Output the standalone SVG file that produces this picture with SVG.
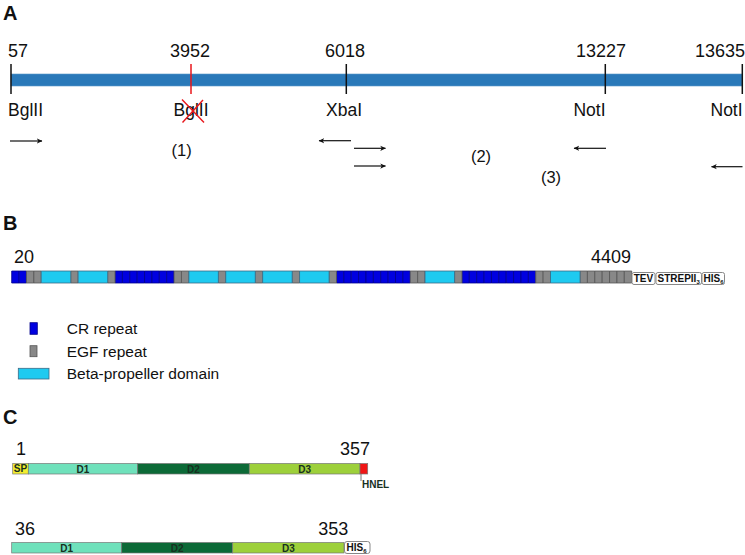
<svg xmlns="http://www.w3.org/2000/svg" width="745" height="555" viewBox="0 0 745 555">
<defs>
<style>
text{font-family:"Liberation Sans",Arial,sans-serif;fill:#111}
.lbl{font-size:20px;font-weight:bold}
.num{font-size:18px}
.site{font-size:17.5px}
.frag{font-size:16.5px}
.leg{font-size:15.5px}
.tick{stroke:#111;stroke-width:1.5}
.arr{stroke:#111;stroke-width:1.2;fill:none;marker-end:url(#ah)}
.cr{fill:#0000e0;stroke:#00008a;stroke-width:0.8}
.egf{fill:#888;stroke:#555;stroke-width:0.8}
.bp{fill:#1ecaf0;stroke:#3b6a86;stroke-width:0.8}
.tag{fill:#fff;stroke:#888;stroke-width:1}
.tagt{font-size:10px;font-weight:bold;fill:#111}
.dom{stroke:#777;stroke-width:0.7}
.domt{font-size:10px;font-weight:bold;fill:#17301f}
</style>
<marker id="ah" viewBox="0 0 8 8" refX="7" refY="4" markerWidth="6" markerHeight="6" markerUnits="userSpaceOnUse" orient="auto">
<path d="M0,0.5 L7.5,4 L0,7.5 L2,4 Z" fill="#111"/>
</marker>
</defs>
<rect width="745" height="555" fill="#fff"/>

<g id="panelA">
<text class="lbl" x="3" y="20">A</text>
<rect x="11" y="74" width="731" height="12" fill="#2a79b9" stroke="#5a97c8" stroke-width="0.6"/>
<line class="tick" x1="11" y1="64" x2="11" y2="94"/>
<line x1="191" y1="64" x2="191" y2="94" stroke="#e8161b" stroke-width="1.5"/>
<line class="tick" x1="346.3" y1="64" x2="346.3" y2="94"/>
<line class="tick" x1="605.3" y1="64" x2="605.3" y2="94"/>
<line class="tick" x1="742.3" y1="64" x2="742.3" y2="94"/>
<text class="num" x="8" y="57">57</text>
<text class="num" x="190" y="57" text-anchor="middle">3952</text>
<text class="num" x="345" y="57" text-anchor="middle">6018</text>
<text class="num" x="601" y="57" text-anchor="middle">13227</text>
<text class="num" x="745" y="57" text-anchor="end">13635</text>
<text class="site" x="8" y="116">BglII</text>
<text class="site" x="191" y="116" text-anchor="middle">BglII</text>
<line x1="182" y1="99.5" x2="204" y2="122.5" stroke="#e8161b" stroke-width="1.4"/>
<line x1="182.5" y1="122.5" x2="203" y2="100" stroke="#e8161b" stroke-width="1.4"/>
<text class="site" x="344" y="116" text-anchor="middle">XbaI</text>
<text class="site" x="589.5" y="116" text-anchor="middle">NotI</text>
<text class="site" x="710.5" y="116">NotI</text>
<text class="frag" x="181.7" y="156" text-anchor="middle">(1)</text>
<text class="frag" x="481" y="161.5" text-anchor="middle">(2)</text>
<text class="frag" x="551" y="183" text-anchor="middle">(3)</text>
</g>

<g id="connectors">
<line class="arr" x1="10" y1="141" x2="42" y2="141"/>
<line class="arr" x1="351" y1="140.7" x2="319" y2="140.7"/>
<line class="arr" x1="354" y1="148.3" x2="385.5" y2="148.3"/>
<line class="arr" x1="354" y1="166" x2="385.5" y2="166"/>
<line class="arr" x1="606" y1="148.3" x2="574" y2="148.3"/>
<line class="arr" x1="742.5" y1="166.7" x2="711.5" y2="166.7"/>
</g>

<g id="panelB">
<text class="lbl" x="3" y="230">B</text>
<text class="num" x="14" y="263">20</text>
<text class="num" x="591" y="263">4409</text>
<g transform="translate(11.7,271) scale(7.381,1)">
<g class="cr">
<rect x="0" y="0" width="1" height="12" vector-effect="non-scaling-stroke"/>
<rect x="1" y="0" width="1" height="12" vector-effect="non-scaling-stroke"/>
<rect x="14" y="0" width="1" height="12" vector-effect="non-scaling-stroke"/>
<rect x="15" y="0" width="1" height="12" vector-effect="non-scaling-stroke"/>
<rect x="16" y="0" width="1" height="12" vector-effect="non-scaling-stroke"/>
<rect x="17" y="0" width="1" height="12" vector-effect="non-scaling-stroke"/>
<rect x="18" y="0" width="1" height="12" vector-effect="non-scaling-stroke"/>
<rect x="19" y="0" width="1" height="12" vector-effect="non-scaling-stroke"/>
<rect x="20" y="0" width="1" height="12" vector-effect="non-scaling-stroke"/>
<rect x="21" y="0" width="1" height="12" vector-effect="non-scaling-stroke"/>
<rect x="44" y="0" width="1" height="12" vector-effect="non-scaling-stroke"/>
<rect x="45" y="0" width="1" height="12" vector-effect="non-scaling-stroke"/>
<rect x="46" y="0" width="1" height="12" vector-effect="non-scaling-stroke"/>
<rect x="47" y="0" width="1" height="12" vector-effect="non-scaling-stroke"/>
<rect x="48" y="0" width="1" height="12" vector-effect="non-scaling-stroke"/>
<rect x="49" y="0" width="1" height="12" vector-effect="non-scaling-stroke"/>
<rect x="50" y="0" width="1" height="12" vector-effect="non-scaling-stroke"/>
<rect x="51" y="0" width="1" height="12" vector-effect="non-scaling-stroke"/>
<rect x="52" y="0" width="1" height="12" vector-effect="non-scaling-stroke"/>
<rect x="53" y="0" width="1" height="12" vector-effect="non-scaling-stroke"/>
<rect x="61" y="0" width="1" height="12" vector-effect="non-scaling-stroke"/>
<rect x="62" y="0" width="1" height="12" vector-effect="non-scaling-stroke"/>
<rect x="63" y="0" width="1" height="12" vector-effect="non-scaling-stroke"/>
<rect x="64" y="0" width="1" height="12" vector-effect="non-scaling-stroke"/>
<rect x="65" y="0" width="1" height="12" vector-effect="non-scaling-stroke"/>
<rect x="66" y="0" width="1" height="12" vector-effect="non-scaling-stroke"/>
<rect x="67" y="0" width="1" height="12" vector-effect="non-scaling-stroke"/>
<rect x="68" y="0" width="1" height="12" vector-effect="non-scaling-stroke"/>
<rect x="69" y="0" width="1" height="12" vector-effect="non-scaling-stroke"/>
<rect x="70" y="0" width="1" height="12" vector-effect="non-scaling-stroke"/>
</g>
<g class="egf">
<rect x="2" y="0" width="1" height="12" vector-effect="non-scaling-stroke"/>
<rect x="3" y="0" width="1" height="12" vector-effect="non-scaling-stroke"/>
<rect x="8" y="0" width="1" height="12" vector-effect="non-scaling-stroke"/>
<rect x="13" y="0" width="1" height="12" vector-effect="non-scaling-stroke"/>
<rect x="22" y="0" width="1" height="12" vector-effect="non-scaling-stroke"/>
<rect x="23" y="0" width="1" height="12" vector-effect="non-scaling-stroke"/>
<rect x="28" y="0" width="1" height="12" vector-effect="non-scaling-stroke"/>
<rect x="33" y="0" width="1" height="12" vector-effect="non-scaling-stroke"/>
<rect x="38" y="0" width="1" height="12" vector-effect="non-scaling-stroke"/>
<rect x="43" y="0" width="1" height="12" vector-effect="non-scaling-stroke"/>
<rect x="54" y="0" width="1" height="12" vector-effect="non-scaling-stroke"/>
<rect x="55" y="0" width="1" height="12" vector-effect="non-scaling-stroke"/>
<rect x="60" y="0" width="1" height="12" vector-effect="non-scaling-stroke"/>
<rect x="71" y="0" width="1" height="12" vector-effect="non-scaling-stroke"/>
<rect x="72" y="0" width="1" height="12" vector-effect="non-scaling-stroke"/>
<rect x="77" y="0" width="1" height="12" vector-effect="non-scaling-stroke"/>
<rect x="78" y="0" width="1" height="12" vector-effect="non-scaling-stroke"/>
<rect x="79" y="0" width="1" height="12" vector-effect="non-scaling-stroke"/>
<rect x="80" y="0" width="1" height="12" vector-effect="non-scaling-stroke"/>
<rect x="81" y="0" width="1" height="12" vector-effect="non-scaling-stroke"/>
<rect x="82" y="0" width="1" height="12" vector-effect="non-scaling-stroke"/>
<rect x="83" y="0" width="1" height="12" vector-effect="non-scaling-stroke"/>
</g>
<g class="bp">
<rect x="4" y="0" width="4" height="12" vector-effect="non-scaling-stroke"/>
<rect x="9" y="0" width="4" height="12" vector-effect="non-scaling-stroke"/>
<rect x="24" y="0" width="4" height="12" vector-effect="non-scaling-stroke"/>
<rect x="29" y="0" width="4" height="12" vector-effect="non-scaling-stroke"/>
<rect x="34" y="0" width="4" height="12" vector-effect="non-scaling-stroke"/>
<rect x="39" y="0" width="4" height="12" vector-effect="non-scaling-stroke"/>
<rect x="56" y="0" width="4" height="12" vector-effect="non-scaling-stroke"/>
<rect x="73" y="0" width="4" height="12" vector-effect="non-scaling-stroke"/>
</g>
</g>
<rect class="tag" x="632" y="272.5" width="23" height="12" rx="2"/>
<text class="tagt" x="643.5" y="282.3" text-anchor="middle">TEV</text>
<rect class="tag" x="656" y="272.5" width="45.5" height="12" rx="2"/>
<text class="tagt" x="657.5" y="282.3">STREPII<tspan font-size="6" dy="2">3</tspan></text>
<rect class="tag" x="702" y="272.5" width="22.5" height="12" rx="2"/>
<text class="tagt" x="703.5" y="282.3">HIS<tspan font-size="6" dy="2">6</tspan></text>
</g>

<g id="legend">
<rect class="cr" x="30" y="322.7" width="7.3" height="11.6"/>
<text class="leg" x="66.7" y="334">CR repeat</text>
<rect class="egf" x="30" y="345.7" width="7" height="11"/>
<text class="leg" x="66.7" y="356.5">EGF repeat</text>
<rect class="bp" x="18.3" y="368.3" width="30.7" height="10.7"/>
<text class="leg" x="66.7" y="379">Beta-propeller domain</text>
</g>

<g id="panelC">
<text class="lbl" x="3" y="424">C</text>
<text class="num" x="16" y="455">1</text>
<text class="num" x="370" y="455" text-anchor="end">357</text>
<rect class="dom" x="12.7" y="463.5" width="15.6" height="10.5" fill="#f3ee30"/>
<rect class="dom" x="28.3" y="463.5" width="109.4" height="10.5" fill="#6fe1bb"/>
<rect class="dom" x="137.7" y="463.5" width="111.6" height="10.5" fill="#0c6a37"/>
<rect class="dom" x="249.3" y="463.5" width="110.7" height="10.5" fill="#9dd03b"/>
<rect class="dom" x="360" y="463.5" width="7.7" height="10.5" fill="#f01515"/>
<text class="domt" x="20.5" y="472.3" text-anchor="middle" font-size="8.5">SP</text>
<text class="domt" x="83" y="472.5" text-anchor="middle">D1</text>
<text class="domt" x="193.5" y="472.5" text-anchor="middle">D2</text>
<text class="domt" x="304.6" y="472.5" text-anchor="middle">D3</text>
<line x1="361" y1="474" x2="361" y2="481" stroke="#777" stroke-width="1"/>
<text class="domt" x="362" y="487.5" font-size="8.5">HNEL</text>

<text class="num" x="15" y="535">36</text>
<text class="num" x="348.3" y="535" text-anchor="end">353</text>
<rect class="dom" x="11.7" y="542.5" width="110" height="10.5" fill="#6fe1bb"/>
<rect class="dom" x="121.7" y="542.5" width="111" height="10.5" fill="#0c6a37"/>
<rect class="dom" x="232.7" y="542.5" width="111.3" height="10.5" fill="#9dd03b"/>
<text class="domt" x="66.7" y="551.5" text-anchor="middle">D1</text>
<text class="domt" x="177.2" y="551.5" text-anchor="middle">D2</text>
<text class="domt" x="288.4" y="551.5" text-anchor="middle">D3</text>
<rect class="tag" x="344.5" y="541.5" width="25.5" height="12" rx="2.5"/>
<text class="tagt" x="346.5" y="551.3">HIS<tspan font-size="6" dy="2">6</tspan></text>
</g>
</svg>
